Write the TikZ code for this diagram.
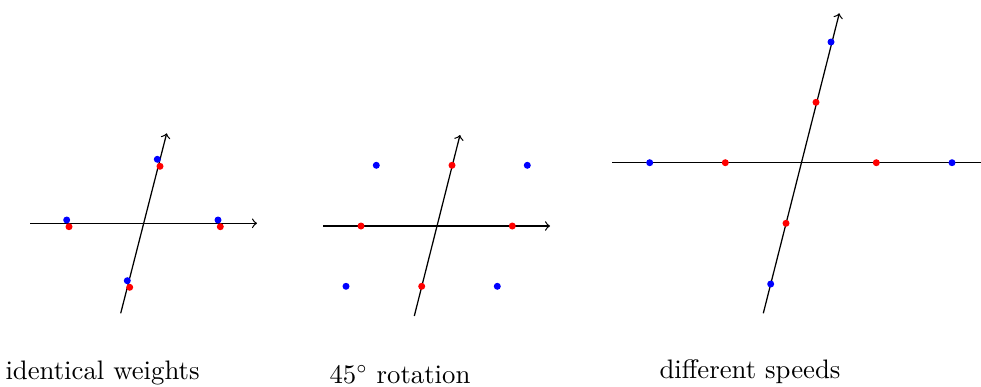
\documentclass[tikz,border=0pt]{standalone}
\begin{document}
\begin{tikzpicture}[x=0.4pt,y=-0.4pt,
  bdot/.style={circle,fill=blue,inner sep=0pt,minimum size=2.8pt},
  rdot/.style={circle,fill=red,inner sep=0pt,minimum size=2.8pt},
  axis/.style={line width=0.5pt},
  lbl/.style={inner sep=0pt,anchor=base west,font=\fontsize{10.7pt}{13pt}\selectfont}]
\useasboundingbox (0,0) rectangle (981,387);
% panel 1
\coordinate (h1a) at (30,223.3);
\coordinate (h1b) at (257,223.3);
\coordinate (s1a) at (120.7,313.3);
\coordinate (s1b) at (166.7,133.3);
\draw[axis,->] (h1a) -- (h1b);
\draw[axis,->] (s1a) -- (s1b);
\node[bdot] (b11) at (66.7,220) {};
\node[bdot] (b12) at (218,220) {};
\node[bdot] (b13) at (157.3,159.3) {};
\node[bdot] (b14) at (127.3,280.7) {};
\node[rdot] (r11) at (69,226.7) {};
\node[rdot] (r12) at (220.3,226.7) {};
\node[rdot] (r13) at (160,166.3) {};
\node[rdot] (r14) at (129.7,287.3) {};
% panel 2
\coordinate (h2a) at (323.3,226);
\coordinate (h2b) at (550,226);
\coordinate (s2a) at (414.3,316);
\coordinate (s2b) at (460,135);
\draw[axis,->] (h2a) -- (h2b);
\draw[axis,->] (s2a) -- (s2b);
\node[bdot] (b21) at (376.3,165.3) {};
\node[bdot] (b22) at (527.3,165.3) {};
\node[bdot] (b23) at (346,286.3) {};
\node[bdot] (b24) at (497.3,286.3) {};
\node[rdot] (r21) at (361,226) {};
\node[rdot] (r22) at (512.3,226) {};
\node[rdot] (r23) at (452,165.3) {};
\node[rdot] (r24) at (421.7,286.3) {};
% panel 3
\coordinate (h3a) at (612.3,162.7);
\coordinate (h3b) at (981,162.7);
\coordinate (s3a) at (763.3,313.3);
\coordinate (s3b) at (839.3,13.3);
\draw[axis] (h3a) -- (h3b);
\draw[axis,->] (s3a) -- (s3b);
\node[bdot] (b31) at (649.7,162.7) {};
\node[bdot] (b32) at (952,162.7) {};
\node[bdot] (b33) at (831,42) {};
\node[bdot] (b34) at (770.7,284) {};
\node[rdot] (r31) at (725.3,162.7) {};
\node[rdot] (r32) at (876.3,162.7) {};
\node[rdot] (r33) at (816,102.3) {};
\node[rdot] (r34) at (786,223.3) {};
% labels
\node[lbl] (l1) at (5,379) {identical weights};
\node[lbl] (l2) at (329,383) {45$^\circ$ rotation};
\node[lbl] (l3) at (659,378.5) {different speeds};
\end{tikzpicture}
\end{document}
